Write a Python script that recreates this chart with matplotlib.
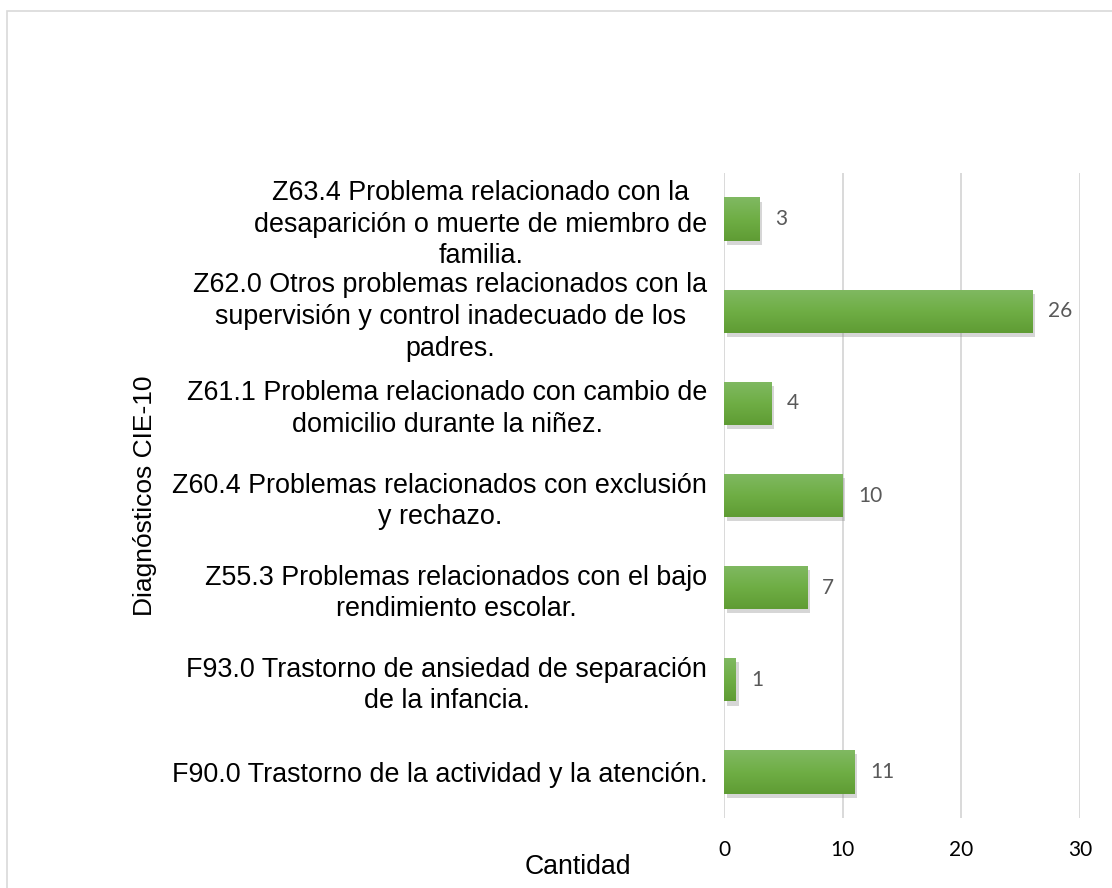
import numpy as np
import matplotlib
matplotlib.use("Agg")
import matplotlib.pyplot as plt
import matplotlib.patheffects as pe
from matplotlib.patches import Rectangle

# --- data (top to bottom as shown) ---
categorias = [
    "Z63.4 Problema relacionado con la\ndesaparición o muerte de miembro de\nfamilia.",
    "Z62.0 Otros problemas relacionados con la\nsupervisión y control inadecuado de los\npadres.",
    "Z61.1 Problema relacionado con cambio de\ndomicilio durante la niñez.",
    "Z60.4 Problemas relacionados con exclusión\ny rechazo.",
    "Z55.3 Problemas relacionados con el bajo\nrendimiento escolar.",
    "F93.0 Trastorno de ansiedad de separación\nde la infancia.",
    "F90.0 Trastorno de la actividad y la atención.",
]
cantidad = [3, 26, 4, 10, 7, 1, 11]
x_ticks = [0, 10, 20, 30]

label_font = "Liberation Sans"
num_font = "Lato"

fig = plt.figure(figsize=(11.12, 8.88), dpi=100)
fig.patch.set_facecolor("white")
# light frame of the chart area
fig.patches.append(Rectangle((7 / 1112, -0.01), 1.02, 1 - 11 / 888 + 0.01,
                             transform=fig.transFigure, fill=False,
                             edgecolor="#d9d9d9", linewidth=1.2))

ax = fig.add_axes([0.6511, 0.0788, 0.3201, 0.7264])

y = np.arange(len(categorias))
bars = ax.barh(y, cantidad, height=0.47, color="#70ad47", zorder=3,
               path_effects=[pe.SimplePatchShadow(offset=(2, -3), shadow_rgbFace="#8c8c8c", alpha=0.35),
                             pe.Normal()])

# vertical gradient on each bar, as in the original
grad = np.linspace(0, 1, 64).reshape(-1, 1)
cmap = matplotlib.colors.LinearSegmentedColormap.from_list("g", ["#80b962", "#6fae45", "#5f9c34"])
for b in bars:
    x0, y0 = b.get_x(), b.get_y()
    im = ax.imshow(grad, extent=(x0, x0 + b.get_width(), y0 + b.get_height(), y0),
                   cmap=cmap, aspect="auto", zorder=4, interpolation="bilinear")
    im.set_clip_path(b)

ax.bar_label(bars, padding=11, color="#595959", fontsize=15, family=num_font, zorder=5)

ax.set_xlim(0, 30)
ax.set_ylim(6.5, -0.5)
ax.set_xticks(x_ticks)
ax.set_yticks(y)
ax.set_yticklabels(categorias, family=label_font, fontsize=19.4, linespacing=1.28,
                   multialignment="center")
for t in ax.get_xticklabels():
    t.set_family(num_font)
    t.set_fontsize(15)
ax.tick_params(axis="x", length=0, pad=16, colors="#000000")
ax.tick_params(axis="y", length=0, pad=12)

ax.grid(axis="x", color="#d9d9d9", linewidth=1.4, zorder=0)
ax.set_axisbelow(True)
for s in ax.spines.values():
    s.set_visible(False)

fig.text(145 / 1112, 1 - 496 / 888, "Diagnósticos CIE-10", rotation=90,
         ha="center", va="center", family=label_font, fontsize=19)
fig.text(578 / 1112, 1 - 867 / 888, "Cantidad", ha="center", va="center",
         family=label_font, fontsize=19.2)

fig.savefig("out.png", dpi=100)
